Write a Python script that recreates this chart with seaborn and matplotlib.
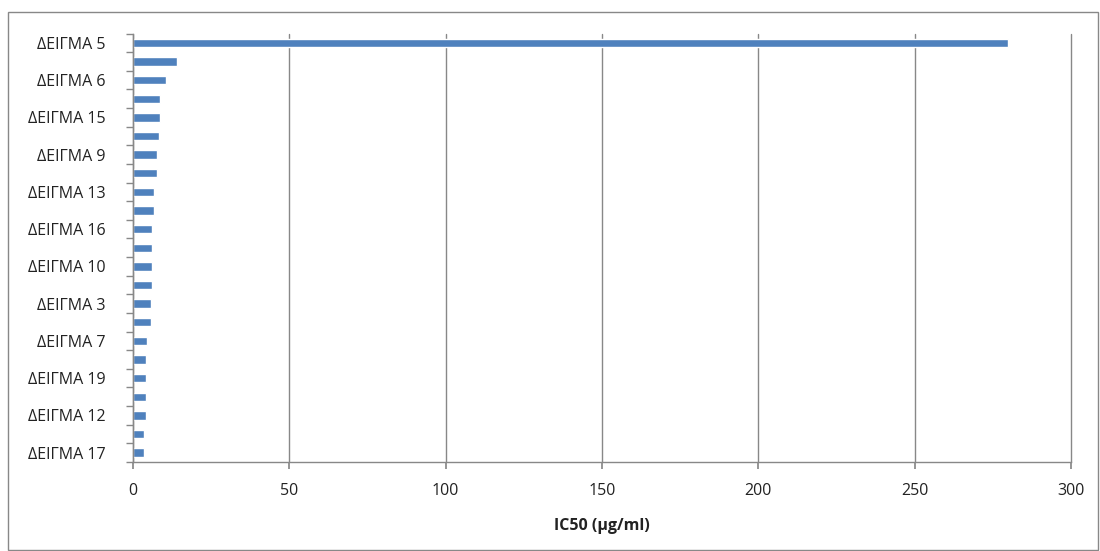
import matplotlib
matplotlib.use("Agg")
import matplotlib.pyplot as plt
import seaborn as sns
import pandas as pd
from matplotlib.patches import Rectangle

# Tick labels (every other bar is labelled in the reference)
tick_labels = ["ΔΕΙΓΜΑ 5", "", "ΔΕΙΓΜΑ 6", "", "ΔΕΙΓΜΑ 15", "", "ΔΕΙΓΜΑ 9", "",
               "ΔΕΙΓΜΑ 13", "", "ΔΕΙΓΜΑ 16", "", "ΔΕΙΓΜΑ 10", "", "ΔΕΙΓΜΑ 3", "",
               "ΔΕΙΓΜΑ 7", "", "ΔΕΙΓΜΑ 19", "", "ΔΕΙΓΜΑ 12", "", "ΔΕΙΓΜΑ 17"]
ic50_values = [280, 14.2, 10.6, 8.7, 8.7, 8.2, 7.7, 7.7, 6.7, 6.7, 6.2, 6.2,
               6.2, 6.2, 5.6, 5.6, 4.6, 4.2, 4.2, 4.2, 4.2, 3.6, 3.6]
x_ticks = [0, 50, 100, 150, 200, 250, 300]

sns.set_theme(style="white")
plt.rcParams['font.family'] = ['Open Sans', 'DejaVu Sans']

positions = [str(i) for i in range(len(ic50_values))]
df = pd.DataFrame({"pos": positions, "value": ic50_values})

fig = plt.figure(figsize=(11, 5.51), dpi=100)
ax = fig.add_axes([133/1100, 1 - 462/551, (1071-133)/1100, (462-33.5)/551])

sns.barplot(data=df, x="value", y="pos", order=positions, orient="h",
            color="#4F81BD", saturation=1, width=0.45, ax=ax)

ax.set_xlim(0, 300)
ax.set_ylim(len(positions) - 0.5, -0.5)
ax.set_xticks(x_ticks)
ax.set_xticklabels([str(t) for t in x_ticks], fontsize=11.5, color="#222222")
ax.set_yticks(range(len(positions)))
ax.set_yticklabels(tick_labels, fontsize=11.5, color="#222222")
ax.tick_params(axis="y", which="major", length=0, pad=20)
ax.set_yticks([i + 0.5 for i in range(-1, len(positions))], minor=True)
ax.tick_params(axis="y", which="minor", length=5, color="#888888", direction="out", left=True)
ax.tick_params(axis="x", which="major", length=5, color="#888888", direction="out", bottom=True, pad=10)

ax.grid(axis="x", color="#888888", linewidth=1)
for gl in ax.get_xgridlines():
    gl.set_clip_on(False)
ax.set_axisbelow(True)
for s in ["top", "right"]:
    ax.spines[s].set_visible(False)
for s in ["left", "bottom"]:
    ax.spines[s].set_color("#888888")
    ax.spines[s].set_linewidth(1)

ax.set_ylabel("")
ax.set_xlabel("IC50 (μg/ml)", fontsize=11.5, fontweight="bold", color="#222222", labelpad=14)

fig.patches.append(Rectangle((8/1100, 1/551), 1090/1100, 538/551, transform=fig.transFigure,
                             fill=False, edgecolor="#888888", linewidth=1))

fig.savefig("out.png", dpi=100)
